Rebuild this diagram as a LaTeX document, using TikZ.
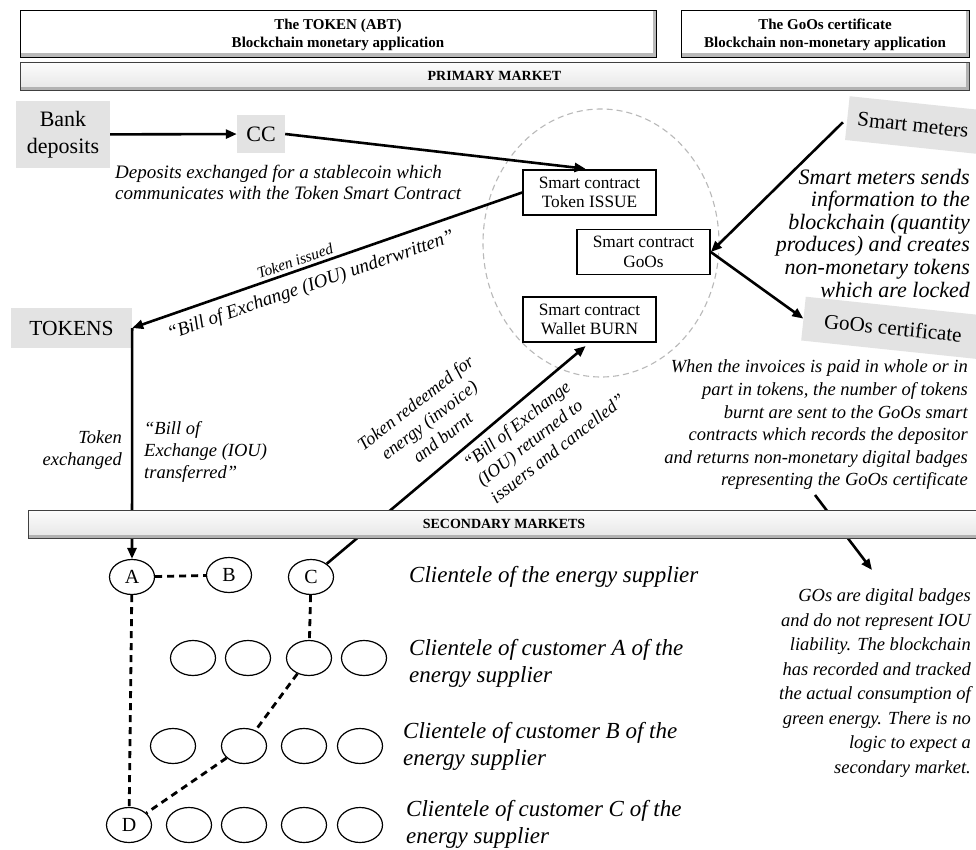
\documentclass[tikz,border=0pt]{standalone}
\usepackage{fontspec}
\setmainfont{Liberation Serif}
\usetikzlibrary{arrows.meta,shapes.geometric}
\begin{document}
\begin{tikzpicture}[x=1pt,y=-1pt,
  hdrbox/.style={draw=black, line width=0.8pt, fill=gray!55, inner sep=0pt,
    path picture={\fill[white] ([shift={(1.3,1.3)}]path picture bounding box.north west) rectangle ([shift={(-3.5,-3.5)}]path picture bounding box.south east);}},
  hdrtext/.style={align=center, inner sep=0pt, font=\fontsize{15}{18}\selectfont\bfseries},
  barbox/.style={draw=black!75, line width=0.8pt, top color=gray!2, bottom color=gray!20, inner sep=0pt,
    font=\fontsize{14}{16}\selectfont\bfseries,
    path picture={\fill[gray!60] ([shift={(0,-3)}]path picture bounding box.south west) rectangle (path picture bounding box.south east);
                  \fill[gray!60] ([shift={(-3,0)}]path picture bounding box.north east) rectangle (path picture bounding box.south east);}},
  graybox/.style={fill=gray!22, inner sep=0pt, align=center, font=\fontsize{22}{27}\selectfont},
  scbox/.style={draw=black, line width=1.6pt, fill=white, minimum width=133pt, minimum height=45pt,
    inner sep=0pt, align=center, font=\fontsize{17.3}{19.5}\selectfont},
  client/.style={draw=black, line width=1.2pt, ellipse, minimum width=45pt, minimum height=35pt,
    inner sep=0pt, font=\fontsize{20}{20}\selectfont},
  arrowline/.style={line width=2.6pt, -{Triangle[length=11pt,width=9pt]}},
  dashline/.style={line width=2.8pt, dash pattern=on 7pt off 5pt},
  lbl/.style={inner sep=0pt, font=\fontsize{#1}{#1}\selectfont\itshape}
]
\useasboundingbox (0,0) rectangle (976,850);
\fill[white] (0,0) rectangle (976,850);

% headers
\node[hdrbox, minimum width=636pt, minimum height=47pt] (h1) at (338,33.5) {};
\node[hdrtext] (h1t) at (338,35) {The TOKEN (ABT)\\Blockchain monetary application};
\node[hdrbox, minimum width=288pt, minimum height=47pt] (h2) at (825,33.5) {};
\node[hdrtext] (h2t) at (825,35) {The GoOs certificate\\Blockchain non-monetary application};
\node[barbox, minimum width=949pt, minimum height=28pt] (pm) at (494.5,76) {PRIMARY MARKET};

% dashed ellipse
\draw[gray!55, line width=1.1pt, dash pattern=on 6pt off 4pt] (601,243) ellipse [x radius=118, y radius=134];

% main nodes
\node[graybox, minimum width=94pt, minimum height=67pt] (bank) at (63,134.5) {Bank\\deposits};
\node[graybox, minimum width=48pt, minimum height=38pt] (cc) at (261,134) {CC};
\node[graybox, minimum width=121pt, minimum height=40pt, font=\fontsize{21.5}{24}\selectfont] (tokens) at (71.5,328) {TOKENS};
\node[scbox] (issue) at (589.5,192.5) {Smart contract\\Token ISSUE};
\node[scbox] (goos) at (643.5,252) {Smart contract\\GoOs};
\node[scbox] (burn) at (589.5,319.5) {Smart contract\\Wallet BURN};
\node[graybox, rotate=-6, minimum width=132pt, minimum height=44pt, font=\fontsize{21}{24}\selectfont] (meters) at (913,125) {Smart meters};
\node[graybox, rotate=-6, minimum width=180pt, minimum height=44pt, font=\fontsize{21}{24}\selectfont] (cert) at (893,328) {GoOs certificate};

% texts
\node[lbl=19, font=\fontsize{19}{21}\selectfont\itshape, align=left, anchor=west] (deptxt) at (115,182.5)
  {Deposits exchanged for a stablecoin which\\communicates with the Token Smart Contract};
\node[lbl=22, font=\fontsize{22}{22.6}\selectfont\itshape, align=right, anchor=east] (smtxt) at (970,233)
  {Smart meters sends\\information to the\\blockchain (quantity\\produces) and creates\\non-monetary tokens\\which are locked};
\node[lbl=18.5, font=\fontsize{18.5}{22.6}\selectfont\itshape, align=right, anchor=east] (certtxt) at (968,425)
  {When the invoices is paid in whole or in\\part in tokens, the number of tokens\\burnt are sent to the GoOs smart\\contracts which records the depositor\\and returns non-monetary digital badges\\representing the GoOs certificate};
\node[lbl=18.5, font=\fontsize{18.5}{24.5}\selectfont\itshape, align=right, anchor=east] (gotxt) at (971,683)
  {GOs are digital badges\\and do not represent IOU\\liability. The blockchain\\has recorded and tracked\\the actual consumption of\\green energy. There is no\\logic to expect a\\secondary market.};

\node[lbl=15.5, rotate=19] (lti) at (295,261) {Token issued};
\node[lbl=19, rotate=19] (lbu) at (311,286) {“Bill of Exchange (IOU) underwritten”};
\node[lbl=18, font=\fontsize{18}{22}\selectfont\itshape, align=center, rotate=38] (lred) at (429,420) {Token redeemed for\\energy (invoice)\\and burnt};
\node[lbl=18, font=\fontsize{18}{22}\selectfont\itshape, align=left, rotate=38] (lret) at (544,431) {“Bill of Exchange\\(IOU) returned to\\issuers and cancelled”};
\node[lbl=18.5, font=\fontsize{18.5}{22}\selectfont\itshape, align=right, anchor=east] (lte) at (122,450) {Token\\exchanged};
\node[lbl=18.5, font=\fontsize{18.5}{22}\selectfont\itshape, align=left, anchor=west] (lbt) at (144,452) {“Bill of\\Exchange (IOU)\\transferred”};

% clientele ellipses
\node[client] (A) at (132,577) {A};
\node[client] (B) at (229,575) {B};
\node[client] (C) at (311,577) {C};
\node[client] (r2a) at (193,658) {};
\node[client] (r2b) at (248,658) {};
\node[client] (r2c) at (309,658) {};
\node[client] (r2d) at (364,658) {};
\node[client] (r3a) at (173,746) {};
\node[client] (r3b) at (244,746) {};
\node[client] (r3c) at (304,746) {};
\node[client] (r3d) at (360,746) {};
\node[client] (D) at (129,825) {D};
\node[client] (r4b) at (189,825) {};
\node[client] (r4c) at (244,825) {};
\node[client] (r4d) at (304,825) {};
\node[client] (r4e) at (360,825) {};

% clientele labels
\node[lbl=23, anchor=west] (cl1) at (409,577) {Clientele of the energy supplier};
\node[lbl=23, font=\fontsize{23}{27}\selectfont\itshape, align=left, anchor=west] (cl2) at (409,663.5) {Clientele of customer A of the\\energy supplier};
\node[lbl=23, font=\fontsize{23}{27}\selectfont\itshape, align=left, anchor=west] (cl3) at (403,746.5) {Clientele of customer B of the\\energy supplier};
\node[lbl=23, font=\fontsize{23}{27}\selectfont\itshape, align=left, anchor=west] (cl4) at (406,824) {Clientele of customer C of the\\energy supplier};

% connectors
\draw[arrowline] (bank) -- (cc);
\draw[arrowline, shorten >=4pt] (cc.east) -- (issue.north);
\draw[arrowline] (issue.west) -- (tokens.east);
\draw[arrowline] (tokens.east) -- (A.north);
\draw[arrowline, shorten >=5pt] (C) -- (burn.south);
\draw[arrowline, shorten <=6pt] (meters.west) -- (goos.east);
\draw[arrowline] (goos.east) -- (cert.west);
\coordinate (g1) at (815,495);
\coordinate (g2) at (872,570);
\draw[arrowline] (g1) -- (g2);

\draw[dashline] (A) -- (B);
\draw[dashline] (A) -- (D);
\draw[dashline] (C) -- (r2c);
\draw[dashline] (r2c) -- (r3b);
\draw[dashline] (r3b) -- (D);

% secondary bar on top of crossing lines
\node[barbox, minimum width=952pt, minimum height=28pt] (sm) at (504,524) {SECONDARY MARKETS};
\end{tikzpicture}
\end{document}
